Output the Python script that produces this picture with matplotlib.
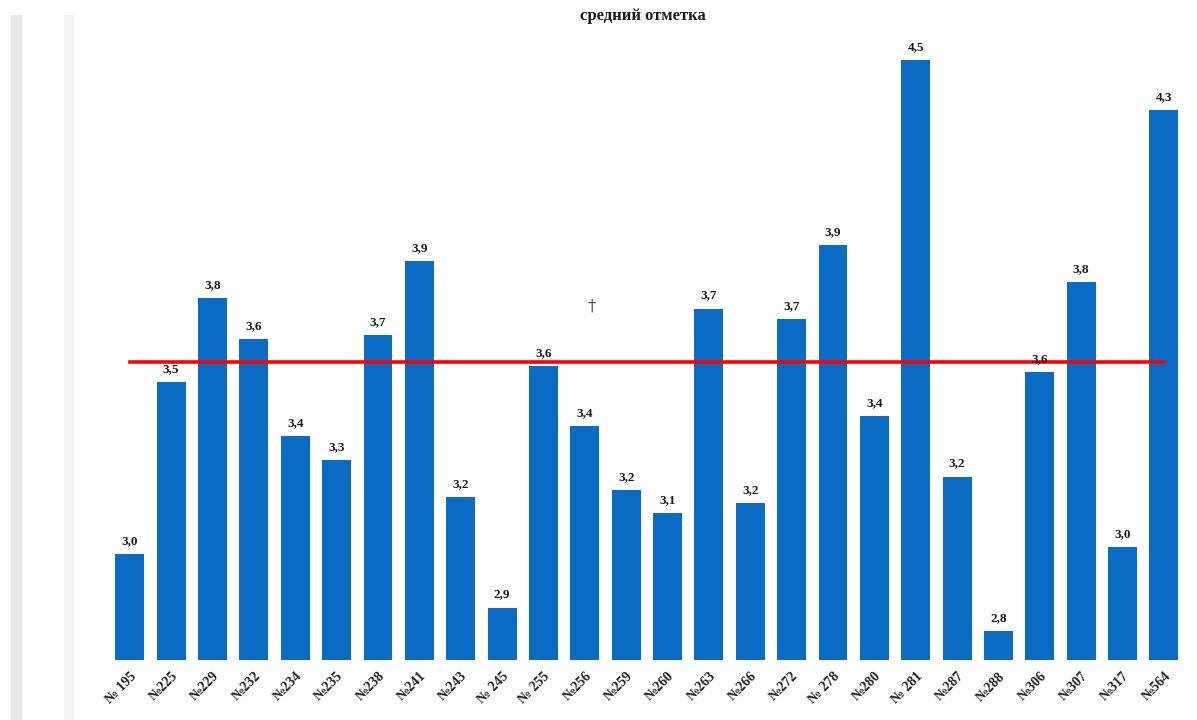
import matplotlib
matplotlib.use("Agg")
import matplotlib.pyplot as plt
from matplotlib.patches import Rectangle

schools = ["№ 195", "№225", "№229", "№232", "№234", "№235", "№238", "№241", "№243",
           "№ 245", "№ 255", "№256", "№259", "№260", "№263", "№266", "№272", "№ 278",
           "№280", "№ 281", "№287", "№288", "№306", "№307", "№317", "№564"]
values = [3.03, 3.54, 3.79, 3.67, 3.38, 3.31, 3.68, 3.90, 3.20, 2.87, 3.59, 3.41, 3.22,
          3.15, 3.76, 3.18, 3.73, 3.95, 3.44, 4.50, 3.26, 2.80, 3.57, 3.84, 3.05, 4.35]
value_labels = ["3,0", "3,5", "3,8", "3,6", "3,4", "3,3", "3,7", "3,9", "3,2", "2,9",
                "3,6", "3,4", "3,2", "3,1", "3,7", "3,2", "3,7", "3,9", "3,4", "4,5",
                "3,2", "2,8", "3,6", "3,8", "3,0", "4,3"]
reference_level = 3.60
title = "средний отметка"

W, H = 1197, 720
fig = plt.figure(figsize=(W / 100, H / 100), dpi=100)
fig.patch.set_facecolor("white")

# decorative grey strips on the left edge
fig.patches.append(Rectangle((11 / W, 0), 11 / W, (H - 15) / H, transform=fig.transFigure,
                             facecolor="#e6e6e6", edgecolor="none", zorder=0))
fig.patches.append(Rectangle((64 / W, 0), 10 / W, (H - 15) / H, transform=fig.transFigure,
                             facecolor="#f4f4f4", edgecolor="none", zorder=0))

ax = fig.add_axes([105 / W, 60 / H, (1190 - 105) / W, (660 - 35) / H])
x = list(range(len(schools)))
ax.bar(x, values, width=0.7, color="#0A6CC4", bottom=0, zorder=2)
ax.set_ylim(2.714, 4.574)
ax.set_xlim(-0.6, 25.63)

ax.plot([x[0], x[-1]], [reference_level, reference_level], color="#FF0000",
        linewidth=2.6, zorder=3)

for xi, v, lab in zip(x, values, value_labels):
    ax.annotate(lab, (xi, v), xytext=(0, 5), textcoords="offset points",
                ha="center", va="bottom", fontsize=9.5, fontweight="bold",
                family="Liberation Serif", color="#1a1a1a")

ax.set_xticks(x)
ax.set_xticklabels(schools, rotation=45, ha="right", rotation_mode="anchor",
                   fontsize=10, fontweight="bold", family="Liberation Serif",
                   color="#222222")
ax.tick_params(axis="x", length=0, pad=7)
ax.set_yticks([])
for s in ax.spines.values():
    s.set_visible(False)

fig.text(643 / W, 1 - 16 / H, title, ha="center", va="center", fontsize=12,
         fontweight="bold", family="Liberation Serif", color="#1a1a1a")
fig.text(592 / W, 1 - 306 / H, "†", ha="center", va="center", fontsize=12,
         family="DejaVu Serif", color="#444444")

fig.savefig("out.png", dpi=100, facecolor="white")
